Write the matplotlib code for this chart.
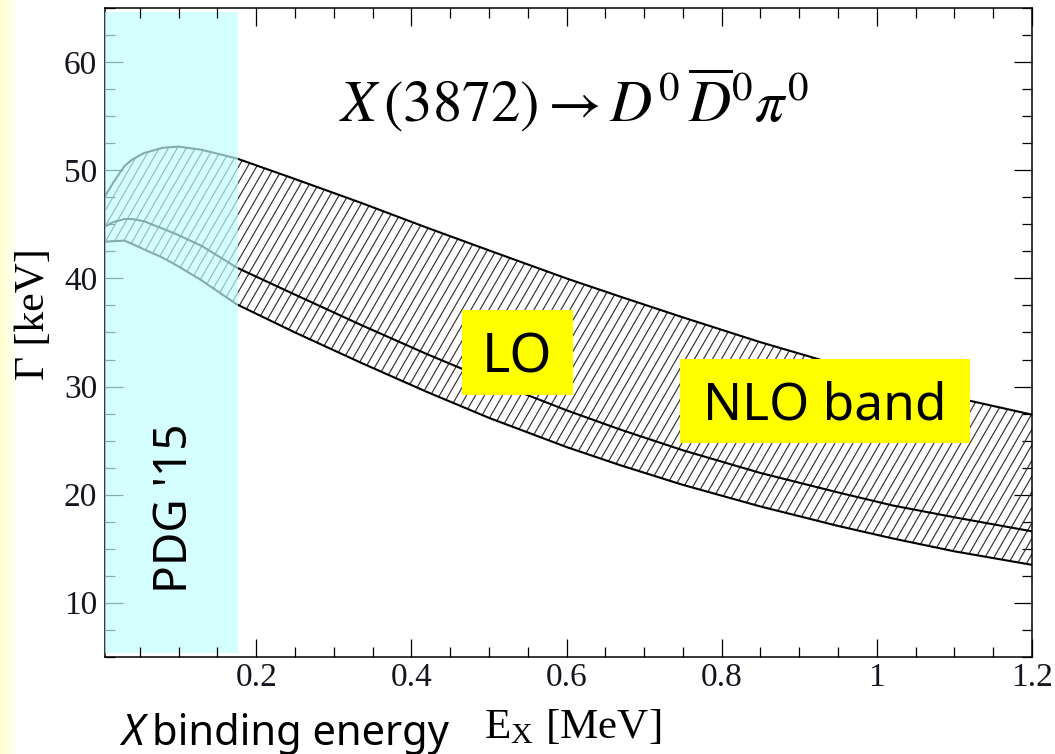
import numpy as np
import matplotlib
matplotlib.use("Agg")
import matplotlib.pyplot as plt
import matplotlib.transforms as mtransforms
from matplotlib.collections import LineCollection
from matplotlib.patches import Rectangle
from matplotlib.ticker import MultipleLocator

# ---------------- data ----------------
E_X = [0.005, 0.015, 0.03, 0.04, 0.055, 0.08, 0.10, 0.13, 0.175, 0.25, 0.335,
       0.42, 0.50, 0.60, 0.67, 0.75, 0.85, 0.95, 1.02, 1.10, 1.20]
nlo_upper = [47.6, 48.8, 50.4, 51.0, 51.6, 52.1, 52.2, 51.9, 51.1, 49.2, 47.0,
             44.7, 42.6, 40.0, 38.3, 36.4, 34.1, 32.0, 30.6, 29.0, 27.4]
lo_width = [44.8, 45.2, 45.5, 45.5, 45.3, 44.6, 44.0, 43.0, 41.0, 38.5, 35.7,
            33.0, 30.6, 27.8, 26.0, 24.1, 22.0, 20.2, 19.0, 17.9, 16.6]
nlo_lower = [43.4, 43.45, 43.5, 43.2, 42.7, 41.9, 41.1, 39.8, 37.6, 35.0, 32.2,
             29.5, 27.1, 24.4, 22.7, 20.9, 18.9, 17.1, 15.95, 14.75, 13.5]
pdg_range = [0.005, 0.177]          # PDG '15 binding-energy band
x_ticks = [0.2, 0.4, 0.6, 0.8, 1.0, 1.2]
x_tick_labels = ["0.2", "0.4", "0.6", "0.8", "1", "1.2"]
y_ticks = [10, 20, 30, 40, 50, 60]

SERIF = "Liberation Serif"
HAND = "Noto Sans"
plt.rcParams["mathtext.fontset"] = "stix"

fig = plt.figure(figsize=(10.55, 7.54), dpi=100)
fig.patch.set_facecolor("white")

# pale yellow strip at the far left edge
gax = fig.add_axes([0, 0, 20 / 1055, 1], zorder=-5)
grad = np.linspace(0, 1, 64)[None, :]
rgb = np.ones((1, 64, 3))
rgb[..., 2] = 0.80 + 0.20 * grad ** 0.9
gax.imshow(rgb, aspect="auto", extent=[0, 1, 0, 1])
gax.axis("off")

ax = fig.add_axes([105 / 1055, 1 - 656.7 / 754, (1032 - 105) / 1055, (656.7 - 8.3) / 754])
ax.set_xlim(0.005, 1.2)
ax.set_ylim(5, 65)

# band
band = ax.fill_between(E_X, nlo_lower, nlo_upper, facecolor="none", edgecolor="none", zorder=1)
fig.canvas.draw()
W, H = ax.bbox.width, ax.bbox.height
theta = np.deg2rad(60)
run = H / np.tan(theta)
step = 9.0
starts = np.arange(-run - step, W + step, step)
segs = [[(x0, 0), (x0 + run, H)] for x0 in starts]
pix = mtransforms.Affine2D().scale(1 / W, 1 / H) + ax.transAxes
hatch = LineCollection(segs, transform=pix, colors="#333333", linewidths=0.85, zorder=1.2)
ax.add_collection(hatch, autolim=False)
hatch.set_clip_path(band.get_paths()[0], ax.transData)

lw = 1.5
ax.plot(E_X, nlo_upper, color="black", lw=lw, zorder=2)
ax.plot(E_X, lo_width, color="black", lw=lw, zorder=2)
ax.plot(E_X, nlo_lower, color="black", lw=lw, zorder=2)

# PDG band overlay (covers the left axis, not top/bottom ticks)
ax.axvspan(pdg_range[0] - 0.01, pdg_range[1], ymin=0.006, ymax=0.994,
           facecolor=(0.76, 1.0, 1.0), alpha=0.68, edgecolor="none", zorder=3)
ax.spines["left"].set_zorder(1)
ax.yaxis.set_zorder(1)
ax.xaxis.set_zorder(4)
for s in ("top", "bottom", "right"):
    ax.spines[s].set_zorder(4)
for s in ax.spines.values():
    s.set_linewidth(1.1)

# ticks
ax.set_xticks(x_ticks)
ax.set_xticklabels(x_tick_labels)
ax.set_yticks(y_ticks)
ax.xaxis.set_minor_locator(MultipleLocator(0.05))
ax.yaxis.set_minor_locator(MultipleLocator(2.5))
ax.tick_params(which="both", direction="in", top=True, right=True, color="black", width=0.9)
ax.tick_params(which="major", length=13)
ax.tick_params(which="minor", length=7)
ax.tick_params(axis="x", which="major", pad=4)
ax.tick_params(axis="y", which="major", pad=5.5)
for lab in ax.get_xticklabels() + ax.get_yticklabels():
    lab.set_fontfamily(SERIF)
    lab.set_fontsize(24)
    lab.set_color("#15151f")

def fx(px):
    return px / 1055

def fy(py):
    return 1 - py / 754

# title formula
fig.text(fx(574), fy(122), r"$X\,(3872) \rightarrow D^0\,\overline{D}^0\pi^0$",
         ha="center", va="baseline", fontsize=42, color="black")

# axis labels
fig.text(fx(34), fy(314), "Γ [keV]", rotation=90, ha="center", va="center",
         fontsize=30, family=SERIF, color="black")
fig.text(fx(573), fy(738), r"E$_\mathregular{X}$ [MeV]", ha="center", va="baseline",
         fontsize=31, family=SERIF, color="black")
fig.text(fx(121), fy(745), "X", ha="left", va="baseline", fontsize=31,
         family=HAND, style="italic", color="black")
fig.text(fx(152), fy(745), "binding energy", ha="left", va="baseline", fontsize=30,
         family=HAND, color="black")

# PDG label
fig.text(fx(187), fy(508), "PDG '15", rotation=90, rotation_mode="anchor",
         ha="center", va="baseline", fontsize=33, family=HAND, color="black", zorder=6)

# yellow boxes
fig.add_artist(Rectangle((fx(462), fy(395)), fx(573) - fx(462), fy(310) - fy(395),
                         transform=fig.transFigure, facecolor="#ffff00", edgecolor="none", zorder=5))
fig.text(fx(517), fy(372), "LO", ha="center", va="baseline", fontsize=39,
         family=HAND, color="black", zorder=6)
fig.add_artist(Rectangle((fx(680), fy(443)), fx(970) - fx(680), fy(359) - fy(443),
                         transform=fig.transFigure, facecolor="#ffff00", edgecolor="none", zorder=5))
fig.text(fx(825), fy(420), "NLO band", ha="center", va="baseline", fontsize=37,
         family=HAND, color="black", zorder=6)

fig.savefig("out.png", dpi=100)
